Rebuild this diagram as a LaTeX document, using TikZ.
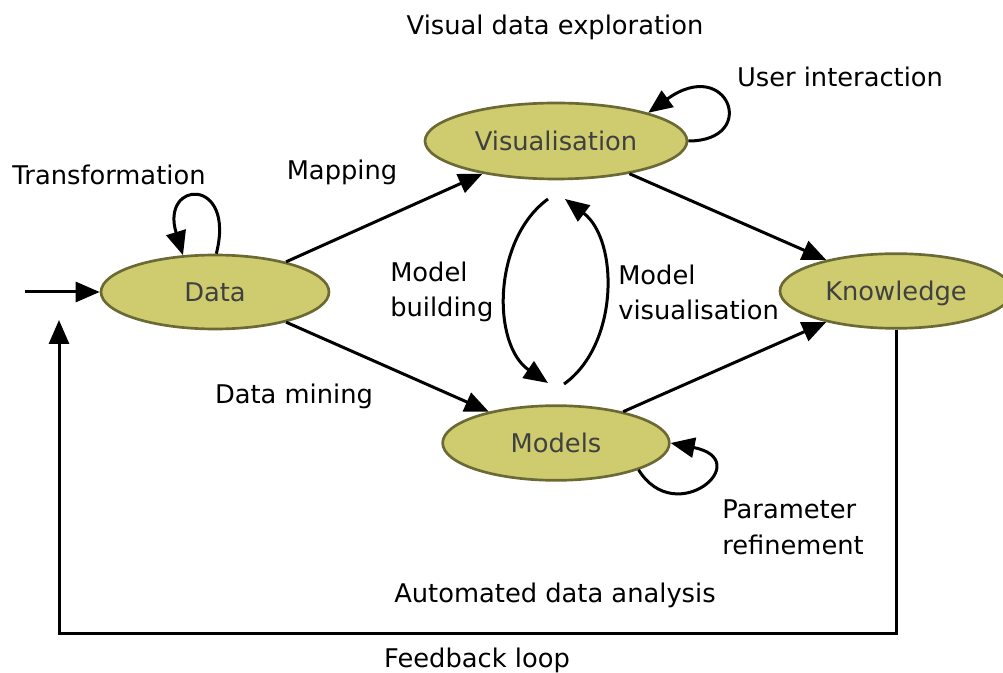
\documentclass[tikz,border=0pt]{standalone}
\usepackage{fontspec}
\setmainfont{DejaVu Sans}
\usetikzlibrary{arrows.meta,shapes.geometric}
\definecolor{nodefill}{RGB}{207,204,111}
\definecolor{nodeedge}{RGB}{108,106,52}
\definecolor{nodetext}{RGB}{64,64,64}

\begin{document}
\begin{tikzpicture}[x=0.75pt,y=-0.75pt,
  every node/.style={font=\fontsize{19.3pt}{26.3pt}\selectfont},
  state/.style={ellipse, draw=nodeedge, fill=nodefill, line width=2pt,
    inner sep=0pt, text=nodetext, text height=14.1pt, text depth=0pt},
  flow/.style={line width=2.25pt, -{Triangle[length=18pt,width=15pt]}},
  lbl/.style={anchor=base, inner sep=0pt},
  lblleft/.style={anchor=base west, inner sep=0pt, align=left},
]
\useasboundingbox (0,0) rectangle (1003,673);

% the four stages
\node[state, minimum width=171pt, minimum height=55.5pt] (data) at (215,292) {Data};
\node[state, minimum width=196.5pt, minimum height=57pt] (vis) at (556,141) {Visualisation};
\node[state, minimum width=170pt, minimum height=56pt] (mod) at (556,443) {Models};
\node[state, minimum width=174pt, minimum height=56pt] (know) at (896,291) {Knowledge};

% free ends of the connectors
\coordinate (in) at (25,292);
\coordinate (mbA) at (548,199);
\coordinate (mbB) at (548,383);
\coordinate (mvA) at (564,384);
\coordinate (mvB) at (565,199);
\coordinate (fbturn) at (59,633);
\coordinate (fbend) at (59,320);

% connectors
\draw[flow] (in) -- (data.west);
\draw[flow] (data.88) .. controls (236,176) and (160,180) .. (data.131);
\draw[flow] (data.23) -- (vis.204);
\draw[flow] (data.337) -- (mod.155);
\draw[flow] (vis.336) -- (know.156);
\draw[flow] (mod.25) -- (know.204);
\draw[flow] (vis.east) .. controls (760,141) and (728,55) .. (vis.17);
\draw[flow] (mod.342) .. controls (676,530) and (757,460) .. (mod.east);
\draw[flow] (mbA) .. controls (492,240) and (492,345) .. (mbB);
\draw[flow] (mvA) .. controls (619,345) and (619,240) .. (mvB);
\draw[flow] (know.south) |- (fbturn) -- (fbend);

% labels
\node[lbl] (tVis) at (555,35) {Visual data exploration};
\node[lbl] (tUser) at (840,87) {User interaction};
\node[lbl] (tTrans) at (109,185) {Transformation};
\node[lbl] (tMap) at (342,180) {Mapping};
\node[lbl] (tMine) at (294,403) {Data mining};
\node[lbl] (tAuto) at (555,602) {Automated data analysis};
\node[lbl] (tFeed) at (477,667) {Feedback loop};
\node[lblleft] (tBuild) at (390,317) {Model\\building};
\node[lblleft] (tMVis) at (618,320) {Model\\visualisation};
\node[lblleft] (tPar) at (722,554) {Parameter\\refinement};
\end{tikzpicture}
\end{document}
